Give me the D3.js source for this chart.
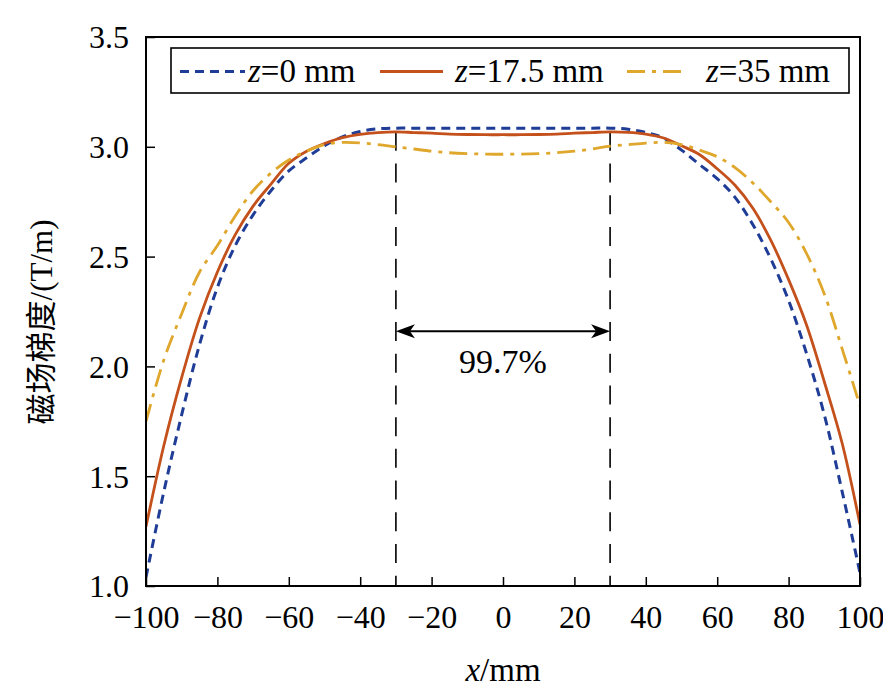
<!DOCTYPE html>
<html>
<head>
<meta charset="utf-8">
<script src="https://cdn.jsdelivr.net/npm/d3@7"></script>
<style>
  html, body { margin: 0; padding: 0; background: #fff; }
  svg { display: block; }
  text { font-family: "Liberation Serif", "Tinos", "DejaVu Serif", "Noto Sans CJK SC", serif; fill: #000; }
</style>
</head>
<body>
<svg id="chart" width="883" height="696"></svg>
<script>
// ---- data ----
const xValues = [-100,-95,-90,-85,-80,-75,-70,-65,-60,-55,-50,-45,-40,-35,-30,-25,-20,-15,-10,-5,0,
                 5,10,15,20,25,30,35,40,45,50,55,60,65,70,75,80,85,90,95,100];
const seriesZ0 = [1.04,1.43,1.78,2.10,2.36,2.55,2.69,2.80,2.89,2.95,3.005,3.045,3.07,3.082,3.085,3.085,3.085,3.085,3.085,3.085,3.085,
                  3.085,3.085,3.085,3.085,3.085,3.085,3.08,3.065,3.04,2.985,2.92,2.855,2.77,2.645,2.49,2.30,2.06,1.78,1.43,1.06];
const seriesZ175 = [1.27,1.64,1.95,2.22,2.43,2.60,2.73,2.83,2.925,2.98,3.015,3.042,3.057,3.065,3.068,3.065,3.062,3.058,3.056,3.055,3.055,
                    3.055,3.056,3.058,3.062,3.065,3.068,3.066,3.058,3.04,3.005,2.965,2.90,2.825,2.72,2.575,2.395,2.19,1.93,1.65,1.28];
const seriesZ35 = [1.75,2.03,2.24,2.43,2.55,2.685,2.80,2.88,2.94,2.98,3.01,3.02,3.018,3.01,3.0,2.99,2.98,2.973,2.969,2.967,2.966,
                   2.967,2.969,2.973,2.98,2.99,3.003,3.01,3.017,3.02,3.01,2.985,2.955,2.905,2.835,2.75,2.655,2.515,2.33,2.08,1.82];
const seriesNames = ["0", "17.5", "35"];
const xTicks = [-100,-80,-60,-40,-20,0,20,40,60,80,100];
const yTicks = [1.0,1.5,2.0,2.5,3.0,3.5];
const markerX = [-30, 30];
const markerTop = 3.068;
const arrowY = 2.16;
const annotationText = "99.7%";

// ---- layout ----
const svg = d3.select("#chart");
const L = 146, R = 860, T = 37, B = 586;
const x = d3.scaleLinear().domain([-100, 100]).range([L, R]);
const y = d3.scaleLinear().domain([1.0, 3.5]).range([B, T]);
const FONT = "'Liberation Serif', 'Tinos', 'DejaVu Serif', 'Noto Sans CJK SC', serif";

const colors = ["#1f3c96", "#c4501b", "#dfa72c"];
const dashes = ["9,6", null, "18,7,4,7"];
const widths = [3, 2.8, 2.8];
const allSeries = [seriesZ0, seriesZ175, seriesZ35];

svg.append("defs").append("clipPath").attr("id", "clip")
  .append("rect").attr("x", L).attr("y", T).attr("width", R - L).attr("height", B - T);

// ticks (inward)
const xAxis = d3.axisBottom(x).tickValues(xTicks).tickSizeInner(-9).tickSizeOuter(0)
  .tickFormat(d => d < 0 ? "\u2212" + Math.abs(d) : String(d));
const gx = svg.append("g").attr("transform", `translate(0,${B})`).call(xAxis);
gx.attr("font-family", null).attr("font-size", null);
gx.select(".domain").remove();
gx.selectAll("line").attr("stroke", "#000").attr("stroke-width", 1.5);
gx.selectAll("text").attr("y", 42).attr("dy", 0).style("font-size", "32px")
  .style("font-family", FONT).attr("fill", "#000");

const yAxis = d3.axisLeft(y).tickValues(yTicks).tickSizeInner(-9).tickSizeOuter(0)
  .tickFormat(d3.format(".1f"));
const gy = svg.append("g").attr("transform", `translate(${L},0)`).call(yAxis);
gy.attr("font-family", null).attr("font-size", null);
gy.select(".domain").remove();
gy.selectAll("line").attr("stroke", "#000").attr("stroke-width", 1.5);
gy.selectAll("text").attr("x", -17).attr("dy", "0.34em").style("font-size", "32px")
  .style("font-family", FONT).attr("fill", "#000");

// vertical dashed markers
svg.append("g").selectAll("line").data(markerX).join("line")
  .attr("x1", d => x(d)).attr("x2", d => x(d))
  .attr("y1", y(markerTop)).attr("y2", B)
  .attr("stroke", "#000").attr("stroke-width", 1.6)
  .attr("stroke-dasharray", "19,12.7");

// curves
const line = d3.line().x((d, i) => x(xValues[i])).y(d => y(d)).curve(d3.curveCatmullRom.alpha(0.5));
const gl = svg.append("g").attr("clip-path", "url(#clip)");
allSeries.forEach((s, k) => {
  gl.append("path").datum(s).attr("d", line)
    .attr("fill", "none").attr("stroke", colors[k]).attr("stroke-width", widths[k])
    .attr("stroke-dasharray", dashes[k]);
});

// arrow
const ay = y(arrowY);
const x1 = x(markerX[0]), x2 = x(markerX[1]);
svg.append("line").attr("x1", x1 + 4).attr("x2", x2 - 4).attr("y1", ay).attr("y2", ay)
  .attr("stroke", "#000").attr("stroke-width", 1.8);
svg.append("path").attr("d", `M${x1},${ay} L${x1 + 19},${ay - 7} L${x1 + 14},${ay} L${x1 + 19},${ay + 7} Z`).attr("fill", "#000");
svg.append("path").attr("d", `M${x2},${ay} L${x2 - 19},${ay - 7} L${x2 - 14},${ay} L${x2 - 19},${ay + 7} Z`).attr("fill", "#000");
svg.append("text").attr("x", (x1 + x2) / 2).attr("y", ay + 42).attr("text-anchor", "middle")
  .style("font-size", "34px").text(annotationText);

// frame
svg.append("rect").attr("x", L).attr("y", T).attr("width", R - L).attr("height", B - T)
  .attr("fill", "none").attr("stroke", "#000").attr("stroke-width", 2);

// legend
const lg = svg.append("g");
lg.append("rect").attr("x", 171).attr("y", 48).attr("width", 678).attr("height", 45)
  .attr("fill", "#fff").attr("stroke", "#000").attr("stroke-width", 1.6);
const legendPos = [{lx: 180, tx: 248}, {lx: 380, tx: 455}, {lx: 627, tx: 706}];
const sampleLen = [65, 63, 60];
seriesNames.forEach((n, k) => {
  lg.append("line").attr("x1", legendPos[k].lx).attr("x2", legendPos[k].lx + sampleLen[k])
    .attr("y1", 71.5).attr("y2", 71.5)
    .attr("stroke", colors[k]).attr("stroke-width", widths[k]).attr("stroke-dasharray", dashes[k]);
  const t = lg.append("text").attr("x", legendPos[k].tx).attr("y", 82).style("font-size", "33px");
  t.append("tspan").style("font-style", "italic").text("z");
  t.append("tspan").text("=" + n + " mm");
});

// axis titles
const xt = svg.append("text").attr("x", 503).attr("y", 681).attr("text-anchor", "middle").style("font-size", "33px");
xt.append("tspan").style("font-style", "italic").text("x");
xt.append("tspan").text("/mm");

svg.append("text").attr("transform", "translate(52,322) rotate(-90)").attr("text-anchor", "middle")
  .style("font-size", "31px")
  .text("磁场梯度/(T/m)");
</script>
</body>
</html>
